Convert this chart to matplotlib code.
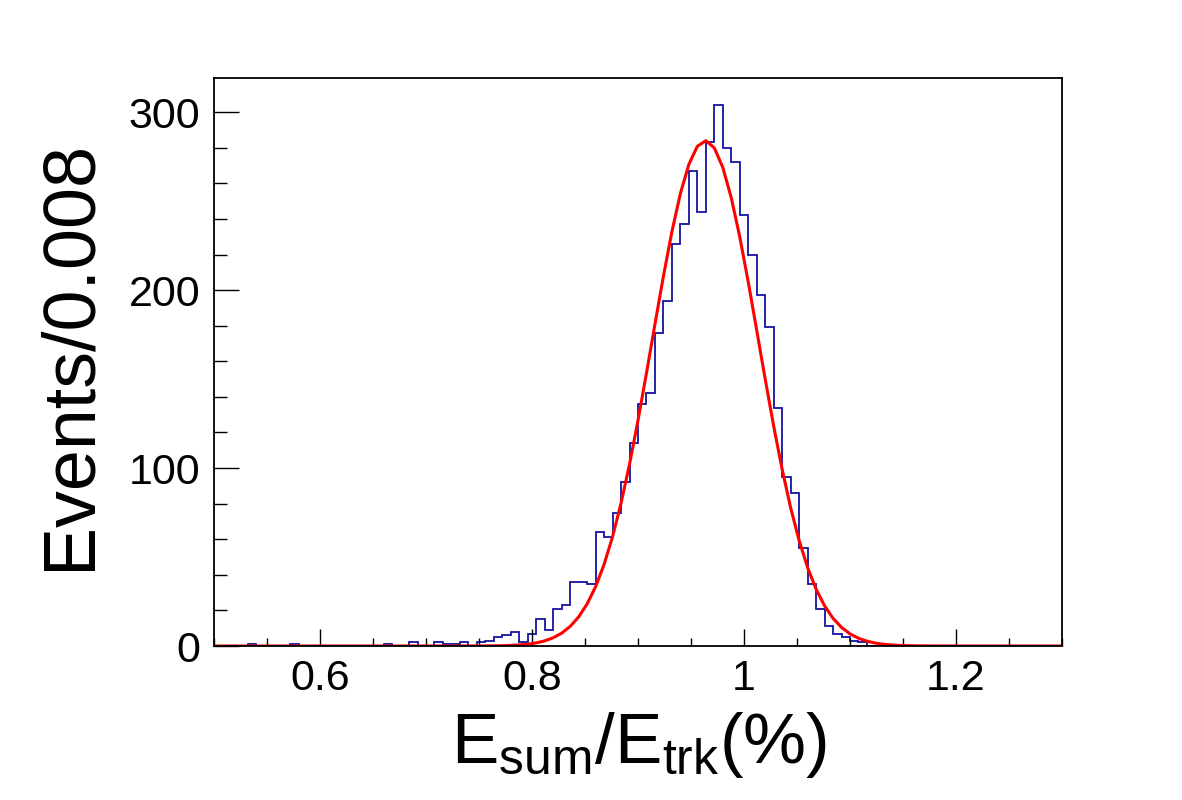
import numpy as np
import matplotlib
matplotlib.use('Agg')
import matplotlib.pyplot as plt
from matplotlib.ticker import MultipleLocator, FixedLocator

plt.rcParams['font.family'] = ['Liberation Sans', 'DejaVu Sans']
plt.rcParams['mathtext.fontset'] = 'custom'
plt.rcParams['mathtext.rm'] = 'Liberation Sans'
plt.rcParams['mathtext.it'] = 'Liberation Sans'

# histogram: 100 bins of 0.008 from 0.5 to 1.3
x_min, x_max = 0.5, 1.3
n_bins = 100
counts = [
    0, 0, 0, 0, 1, 0, 0, 0, 0, 1,
    0, 0, 0, 0, 0, 0, 0, 0, 0, 0,
    1, 0, 0, 2, 0, 0, 2, 1, 1, 2,
    0, 2, 3, 5, 6, 8, 2, 7, 15, 9,
    21, 23, 36, 36, 35, 64, 61, 75, 92, 114,
    136, 142, 176, 194, 226, 237, 267, 244, 283, 304,
    280, 272, 242, 220, 197, 179, 134, 95, 86, 55,
    35, 21, 11, 7, 5, 3, 2, 0, 0, 0,
    0, 0, 0, 0, 0, 0, 0, 0, 0, 0,
    0, 0, 0, 0, 0, 0, 0, 0, 0, 0,
]

# gaussian fit result
fit_amp = 284.0
fit_mean = 0.9635
fit_sigma = 0.0500

x_ticks = [0.6, 0.8, 1.0, 1.2]
x_tick_labels = ['0.6', '0.8', '1', '1.2']
y_ticks = [0, 100, 200, 300]


def gaus(x, a, m, s):
    return a * np.exp(-0.5 * ((x - m) / s) ** 2)


edges = np.linspace(x_min, x_max, n_bins + 1)
x_fit = np.linspace(x_min, x_max, 101)
y_fit = gaus(x_fit, fit_amp, fit_mean, fit_sigma)

fig = plt.figure(figsize=(11.82, 8.0), dpi=100)
ax = fig.add_axes([214 / 1182, 1 - 646 / 800, (1062 - 214) / 1182, (646 - 78) / 800])

ax.stairs(counts, edges, color='#1414a0', linewidth=1.3)
ax.plot(x_fit, y_fit, color='#ff0000', linewidth=2.2)

ax.set_xlim(x_min, x_max)
ax.set_ylim(0, 1.05 * max(counts))

ax.xaxis.set_major_locator(FixedLocator(x_ticks))
ax.set_xticklabels(x_tick_labels)
ax.xaxis.set_minor_locator(MultipleLocator(0.05))
ax.yaxis.set_major_locator(FixedLocator(y_ticks))
ax.yaxis.set_minor_locator(MultipleLocator(20))

ax.tick_params(axis='both', which='both', direction='in', top=False, right=False,
               width=1.0, labelsize=31, color='black')
ax.tick_params(axis='x', which='major', length=12, pad=9)
ax.tick_params(axis='x', which='minor', length=6)
ax.tick_params(axis='y', which='major', length=18, pad=10)
ax.tick_params(axis='y', which='minor', length=9)

for sp in ax.spines.values():
    sp.set_linewidth(1.3)

fig.text(639 / 1182, 1 - 763 / 800, r'E$_{\mathrm{sum}}$/E$_{\mathrm{trk}}$(%)',
         ha='center', va='baseline', fontsize=51)
fig.text(90 / 1182, 1 - 355 / 800, 'Events/0.008', rotation=90,
         rotation_mode='anchor', ha='center', va='baseline', fontsize=53)

fig.savefig('out.png', dpi=100)
